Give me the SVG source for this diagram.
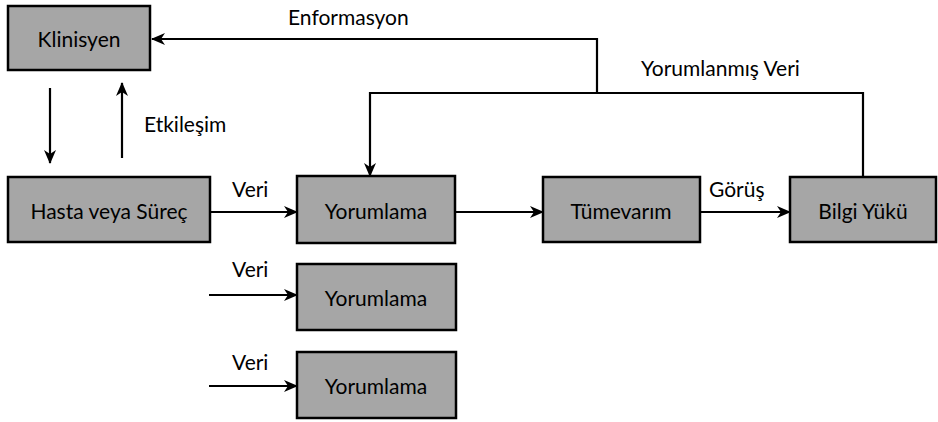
<svg xmlns="http://www.w3.org/2000/svg" width="938" height="422" viewBox="0 0 938 422">
<style>
.box{fill:#a6a6a6;stroke:#000;stroke-width:2.5}
.lbl{font-family:Lato,"Liberation Sans",sans-serif;font-size:21px;fill:#000}
.c{text-anchor:middle;dominant-baseline:central}
.ln{fill:none;stroke:#000;stroke-width:2.2}
</style>
<defs>
<marker id="ah" markerUnits="userSpaceOnUse" markerWidth="14" markerHeight="12" refX="13" refY="6" orient="auto">
<path d="M0,0 L14,6 L0,12 L4,6 z" fill="#000"/>
</marker>
</defs>
<rect width="938" height="422" fill="#fff"/>
<g id="connectors">
<path class="ln" d="M597,93 V39 H152" marker-end="url(#ah)"/>
<path class="ln" d="M863,177 V93 H370 V176" marker-end="url(#ah)"/>
<path class="ln" d="M50,88 V163" marker-end="url(#ah)"/>
<path class="ln" d="M122,158 V83" marker-end="url(#ah)"/>
<path class="ln" d="M210,212 H297" marker-end="url(#ah)"/>
<path class="ln" d="M455,212 H543" marker-end="url(#ah)"/>
<path class="ln" d="M700,212 H790" marker-end="url(#ah)"/>
<path class="ln" d="M209,295 H297" marker-end="url(#ah)"/>
<path class="ln" d="M209,386 H297" marker-end="url(#ah)"/>
<text class="lbl" x="288" y="25">Enformasyon</text>
<text class="lbl" x="641" y="76">Yorumlanmış Veri</text>
<text class="lbl" x="144" y="132">Etkileşim</text>
<text class="lbl" x="232" y="197">Veri</text>
<text class="lbl" x="709" y="197">Görüş</text>
<text class="lbl" x="232" y="277">Veri</text>
<text class="lbl" x="232" y="370">Veri</text>
</g>
<g id="klinisyen"><rect class="box" x="8" y="6" width="142" height="64"/><text class="lbl c" x="79" y="38">Klinisyen</text></g>
<g id="hasta"><rect class="box" x="8" y="177" width="202" height="65"/><text class="lbl c" x="109" y="210">Hasta veya Süreç</text></g>
<g id="yorumlama1"><rect class="box" x="297" y="176" width="158" height="67"/><text class="lbl c" x="376" y="210">Yorumlama</text></g>
<g id="tumevarim"><rect class="box" x="543" y="177" width="157" height="65"/><text class="lbl c" x="621" y="210">Tümevarım</text></g>
<g id="bilgi"><rect class="box" x="790" y="177" width="146" height="65"/><text class="lbl c" x="863" y="210">Bilgi Yükü</text></g>
<g id="yorumlama2"><rect class="box" x="297" y="264" width="159" height="66"/><text class="lbl c" x="376" y="297">Yorumlama</text></g>
<g id="yorumlama3"><rect class="box" x="297" y="352" width="159" height="66"/><text class="lbl c" x="376" y="385">Yorumlama</text></g>
</svg>
